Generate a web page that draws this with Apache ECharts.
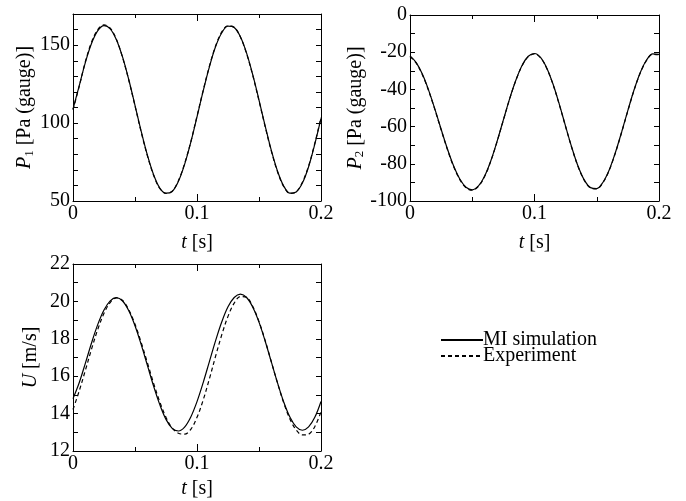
<!DOCTYPE html>
<html><head><meta charset="utf-8">
<script src="https://cdn.jsdelivr.net/npm/echarts@6/dist/echarts.min.js"></script>
<style>html,body{margin:0;padding:0;background:#fff}#c{width:686px;height:501px}</style>
</head><body><div id="c"></div>
<script>
const time = [0,0.005,0.01,0.015,0.02,0.025,0.03,0.035,0.04,0.045,0.05,0.055,0.06,0.065,0.07,0.075,0.08,0.085,0.09,0.095,0.1,0.105,0.11,0.115,0.12,0.125,0.13,0.135,0.14,0.145,0.15,0.155,0.16,0.165,0.17,0.175,0.18,0.185,0.19,0.195,0.2];
const p1Sim = [109,123.9,139,151.2,159.3,162.5,160.5,153.5,142.3,127.8,111.4,94.7,79.4,66.9,58.3,55,56.1,62.6,73.5,87.7,104,120.7,136.1,149.1,158,162.2,161.3,155.4,144.9,130.9,114.8,98.1,82.3,69,59.5,55,55.8,61.5,72,86.5,103];
const p1Exp = [108.5,123.5,139.5,152,160,163,161,153.8,142,127.5,111,94.2,79,66.5,58,54.8,56.3,63,74,88,104.5,121,136.5,149.5,158.5,162.5,161.5,155.3,144.5,130.5,114.3,97.6,81.8,68.6,59.2,54.8,55.9,62,72.5,87,103.5];
const p2Sim = [-22,-25.6,-31.9,-40.5,-50.6,-61.4,-71.9,-81.1,-88.2,-92.6,-94,-91.9,-86.5,-78.2,-67.8,-56.4,-45.1,-35.1,-27.1,-22.2,-20.7,-22.9,-28.7,-37.4,-48.2,-59.9,-71.3,-81.3,-88.7,-92.8,-93.3,-89.9,-83.3,-73.9,-62.9,-51.3,-40.2,-30.9,-24.2,-20.9,-21.2];
const p2Exp = [-22.3,-25.9,-32.2,-40.8,-50.9,-61.7,-72.2,-81.4,-88.5,-92.9,-94.2,-92.1,-86.7,-78.4,-67.9,-56.5,-45.2,-35.2,-27.3,-22.4,-20.9,-23.1,-28.9,-37.6,-48.4,-60.1,-71.5,-81.5,-88.9,-93,-93.5,-90.1,-83.5,-74.1,-63.1,-51.5,-40.4,-31.1,-24.4,-21.1,-21.4];
const uSim = [14.8,15.65,16.7,17.79,18.77,19.54,20.03,20.2,20.02,19.5,18.7,17.69,16.58,15.47,14.48,13.69,13.21,13.07,13.28,13.82,14.64,15.66,16.78,17.9,18.91,19.71,20.21,20.39,20.21,19.69,18.89,17.87,16.75,15.63,14.61,13.8,13.29,13.11,13.29,13.8,14.65];
const uExp = [14.22,15.21,16.32,17.46,18.51,19.36,19.94,20.19,20.05,19.55,18.78,17.8,16.72,15.62,14.62,13.8,13.22,12.95,12.9,13.16,13.8,14.73,15.86,17.07,18.22,19.2,19.91,20.26,20.22,19.72,18.92,17.9,16.76,15.62,14.56,13.7,13.12,12.86,12.9,13.3,14.1];
const xTicks = ['0','0.1','0.2'];
const seriesNames = ['MI simulation','Experiment'];

const FF = 'Liberation Serif';
const pairs = arr => arr.map((v,i)=>[time[i], v]);

const grids = [
  {left:73, top:14, width:248, height:187},
  {left:410, top:15, width:249, height:186},
  {left:73, top:264, width:248, height:187}
];
const yCfg = [
  {min:50, max:170, labelEvery:50, name:'{i|P}{s|1}{n| [Pa (gauge)]}', gap:33},
  {min:-100, max:0, labelEvery:20, name:'{i|P}{s|2}{n| [Pa (gauge)]}', gap:33},
  {min:12, max:22, labelEvery:2, name:'{i|U}{n| [m/s]}', gap:31}
];
const yInt = [10,10,1];
const xNameGaps = [31,31,27];

const xAxis = [], yAxis = [], series = [];
const rich = {
  i:{fontFamily:FF,fontStyle:'italic',fontSize:20,color:'#000',lineHeight:22},
  s:{fontFamily:FF,fontSize:13,color:'#000',verticalAlign:'bottom',lineHeight:22},
  n:{fontFamily:FF,fontSize:20,color:'#000',lineHeight:22}
};
grids.forEach((g,k)=>{
  xAxis.push({
    type:'value', gridIndex:k, position:'bottom', min:0, max:0.2, interval:0.1,
    axisLine:{show:true,onZero:false,lineStyle:{color:'#000',width:1}},
    axisTick:{show:true,inside:true,length:7,lineStyle:{color:'#000'}},
    minorTick:{show:true,splitNumber:2,length:4,lineStyle:{color:'#000'}},
    splitLine:{show:false},
    axisLabel:{fontFamily:FF,fontSize:20,color:'#000',margin:3,
      formatter:v=>{const i=Math.round(v/0.1);return xTicks[i]!==undefined?xTicks[i]:'';}},
    name:'{i|t}{n| [s]}', nameLocation:'middle', nameGap:xNameGaps[k],
    nameTextStyle:{fontFamily:FF,fontSize:20,color:'#000',rich:rich}
  });
  xAxis.push({
    type:'value', gridIndex:k, position:'top', min:0, max:0.2, interval:0.1,
    axisLine:{show:true,onZero:false,lineStyle:{color:'#000',width:1}},
    axisTick:{show:true,inside:true,length:7,lineStyle:{color:'#000'}},
    minorTick:{show:true,splitNumber:2,length:4,lineStyle:{color:'#000'}},
    splitLine:{show:false}, axisLabel:{show:false}
  });
  const c = yCfg[k];
  yAxis.push({
    type:'value', gridIndex:k, position:'left', min:c.min, max:c.max, interval:yInt[k],
    axisLine:{show:true,onZero:false,lineStyle:{color:'#000',width:1}},
    axisTick:{show:true,inside:true,length:5,lineStyle:{color:'#000'}},
    splitLine:{show:false},
    axisLabel:{fontFamily:FF,fontSize:20,color:'#000',margin:3,showMaxLabel:true,showMinLabel:true,
      formatter:v=>{const r=v/c.labelEvery;return Math.abs(r-Math.round(r))<1e-6?String(Math.round(v)):'';}},
    name:c.name, nameLocation:'middle', nameGap:c.gap, nameRotate:90,
    nameTextStyle:{fontFamily:FF,fontSize:20,color:'#000',rich:rich}
  });
  yAxis.push({
    type:'value', gridIndex:k, position:'right', min:c.min, max:c.max, interval:yInt[k],
    axisLine:{show:true,onZero:false,lineStyle:{color:'#000',width:1}},
    axisTick:{show:true,inside:true,length:5,lineStyle:{color:'#000'}},
    splitLine:{show:false}, axisLabel:{show:false}
  });
});
const sets = [[p1Sim,p1Exp],[p2Sim,p2Exp],[uSim,uExp]];
sets.forEach((pair,k)=>{
  pair.forEach((arr,j)=>{
    series.push({
      type:'line', name:seriesNames[j], xAxisIndex:2*k, yAxisIndex:2*k,
      data:pairs(arr), smooth:0.35, symbol:'none', clip:true,
      lineStyle:{color:'#000', width:1.2, type: j===0?'solid':[4,3]},
      itemStyle:{color:'#000'}, z: j===0?3:2
    });
  });
});

const chart = echarts.init(document.getElementById('c'), null, {renderer:'canvas'});
chart.setOption({
  animation:false,
  backgroundColor:'#fff',
  grid:grids,
  xAxis:xAxis, yAxis:yAxis, series:series,
  legend:{
    data:seriesNames, orient:'vertical', left:435, top:325,
    itemWidth:42, itemHeight:10, itemGap:-4, selectedMode:false,
    itemStyle:{opacity:0},
    formatter:name=>'{a|'+name+'}',
    textStyle:{fontFamily:FF,fontSize:20,color:'#000',
      rich:{a:{fontFamily:FF,fontSize:20,color:'#000',padding:[0,0,0,-5]}}}
  }
});
</script></body></html>
